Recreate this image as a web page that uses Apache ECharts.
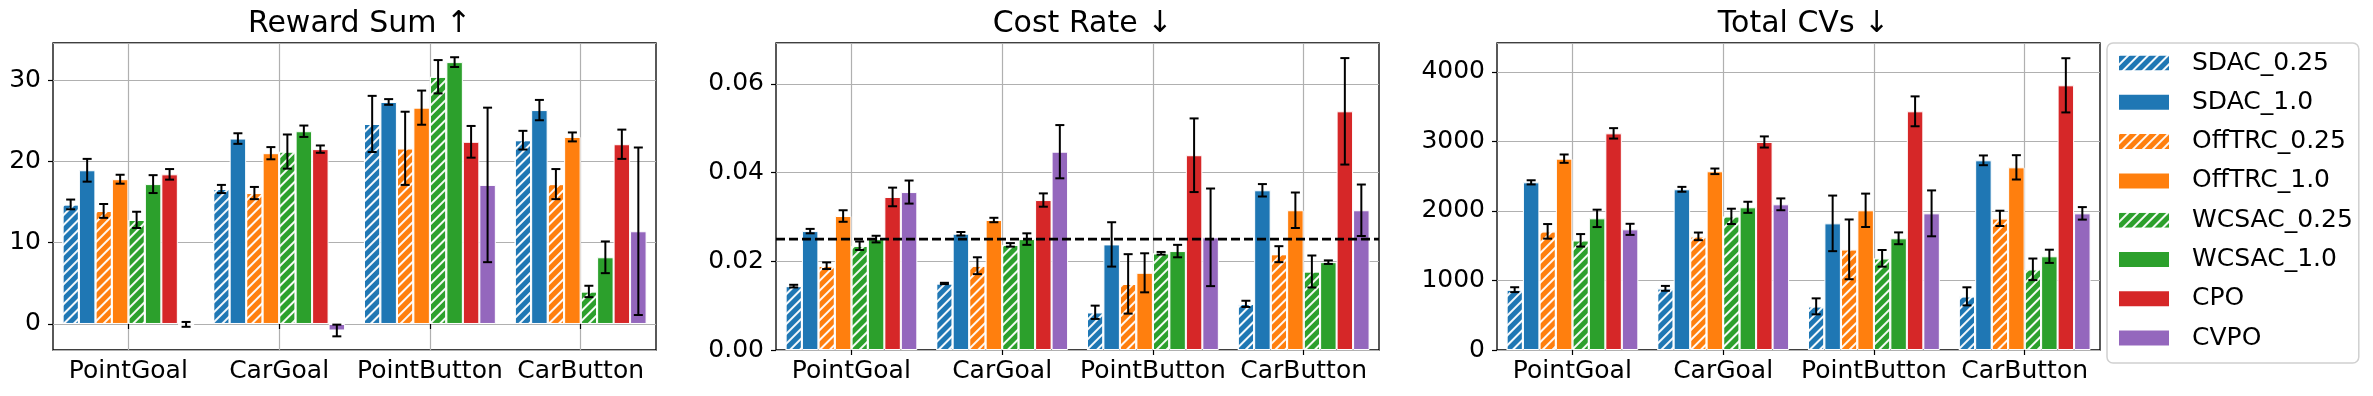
<!DOCTYPE html>
<html>
<head>
<meta charset="utf-8">
<script src="https://cdn.jsdelivr.net/npm/echarts@6/dist/echarts.min.js"></script>
<style>
  html, body { margin: 0; padding: 0; background: #fff; }
  #chart { width: 2373px; height: 396px; }
</style>
</head>
<body>
<div id="chart"></div>
<script>
// categories and methods
const envs = ['PointGoal', 'CarGoal', 'PointButton', 'CarButton'];
const methods = ['SDAC_0.25', 'SDAC_1.0', 'OffTRC_0.25', 'OffTRC_1.0', 'WCSAC_0.25', 'WCSAC_1.0', 'CPO', 'CVPO'];

// rows = methods, columns = envs
const rewardMean = [
  [14.7, 16.6, 24.6, 22.6],
  [18.9, 22.8, 27.3, 26.3],
  [13.9, 16.1, 21.6, 17.2],
  [17.8, 21.0, 26.6, 23.0],
  [12.8, 21.2, 30.4, 4.0],
  [17.2, 23.7, 32.2, 8.2],
  [18.4, 21.5, 22.4, 22.1],
  [-0.05, -0.8, 17.1, 11.4]
];
const rewardErr = [
  [0.6, 0.5, 3.45, 1.15],
  [1.4, 0.65, 0.35, 1.25],
  [0.85, 0.75, 4.5, 1.85],
  [0.55, 0.75, 2.1, 0.55],
  [1.0, 2.1, 2.05, 0.7],
  [1.1, 0.7, 0.6, 1.95],
  [0.65, 0.45, 1.95, 1.8],
  [0.3, 0.72, 9.5, 10.3]
];

const costMean = [
  [0.0144, 0.0150, 0.0085, 0.0104],
  [0.0268, 0.0262, 0.0238, 0.0360],
  [0.0190, 0.0190, 0.0149, 0.0216],
  [0.0302, 0.0293, 0.0174, 0.0315],
  [0.0235, 0.0237, 0.0218, 0.0177],
  [0.0250, 0.0250, 0.0223, 0.0198],
  [0.0345, 0.0338, 0.0439, 0.0538],
  [0.0356, 0.0447, 0.0254, 0.0315]
];
const costErr = [
  [0.0003, 0.00015, 0.0015, 0.0007],
  [0.0005, 0.0004, 0.005, 0.0014],
  [0.00075, 0.0019, 0.0067, 0.0018],
  [0.0013, 0.0005, 0.0044, 0.004],
  [0.00095, 0.0004, 0.0003, 0.0036],
  [0.00075, 0.0013, 0.0014, 0.0004],
  [0.0021, 0.0015, 0.0083, 0.012],
  [0.0026, 0.006, 0.011, 0.0058]
];
const costLimit = 0.025;

const cvMean = [
  [868, 887, 628, 772],
  [2412, 2312, 1822, 2729],
  [1707, 1635, 1448, 1894],
  [2753, 2571, 2010, 2628],
  [1578, 1923, 1319, 1161],
  [1894, 2053, 1607, 1348],
  [3117, 2993, 3434, 3808],
  [1736, 2096, 1966, 1966]
];
const cvErr = [
  [35, 35, 115, 130],
  [30, 35, 400, 70],
  [105, 55, 430, 110],
  [60, 40, 240, 175],
  [90, 110, 120, 155],
  [125, 80, 85, 95],
  [75, 80, 215, 390],
  [80, 85, 330, 90]
];

const colors = ['#1f77b4', '#1f77b4', '#ff7f0e', '#ff7f0e', '#2ca02c', '#2ca02c', '#d62728', '#9467bd'];
const hatched = [true, false, true, false, true, false, false, false];

const FONT = 'DejaVu Sans';
const GROUP = 0.875; // share of a category taken by the bar group

const panels = [
  { title: 'Reward Sum ↑', mean: rewardMean, err: rewardErr, left: 53, min: -3.2, max: 34.55, split: 4, fmt: v => String(v) },
  { title: 'Cost Rate ↓', mean: costMean, err: costErr, left: 776, min: 0, max: 0.0692, interval: 0.02, fmt: v => v.toFixed(2) },
  { title: 'Total CVs ↓', mean: cvMean, err: cvErr, left: 1497, min: 0, max: 4417, interval: 1000, fmt: v => String(v) }
];
const gridW = 603, gridTop = 43, gridH = 307;
const helperCats = ['a', 'b', 'c', 'd', 'e', 'f', 'g', 'h', 'i'];

const hatch = {
  symbol: 'rect',
  symbolSize: 1,
  color: 'rgba(255,255,255,0.95)',
  dashArrayX: [1, 0],
  dashArrayY: [1.3, 5],
  rotation: -Math.PI / 4
};

function renderErr(params, api) {
  const c = api.value(0), k = api.value(1);
  const lo = api.value(2), hi = api.value(3);
  const band = api.size([1, 0])[0];
  const w = band * GROUP / methods.length;
  const x = api.coord([c, 0])[0] - band * GROUP / 2 + (k + 0.5) * w;
  const y1 = api.coord([c, hi])[1];
  const y2 = api.coord([c, lo])[1];
  const cap = 4.5;
  const style = { stroke: '#000', lineWidth: 2 };
  return {
    type: 'group',
    children: [
      { type: 'line', shape: { x1: x, y1: y1, x2: x, y2: y2 }, style },
      { type: 'line', shape: { x1: x - cap, y1: y1, x2: x + cap, y2: y1 }, style },
      { type: 'line', shape: { x1: x - cap, y1: y2, x2: x + cap, y2: y2 }, style }
    ]
  };
}

const grid = [], xAxis = [], yAxis = [], title = [], series = [];

panels.forEach((p, gi) => {
  grid.push({
    left: p.left, top: gridTop, width: gridW, height: gridH,
    show: true, borderColor: '#000', borderWidth: 1.3, backgroundColor: 'transparent'
  });
  title.push({
    text: p.title,
    left: p.left + gridW / 2,
    textAlign: 'center',
    top: 4,
    textStyle: { fontFamily: FONT, fontSize: 30, fontWeight: 'normal', color: '#000' }
  });
  // main category axis
  xAxis.push({
    type: 'category', gridIndex: gi, data: envs,
    axisLine: { show: false },
    axisTick: { show: true, alignWithLabel: true, length: 5, lineStyle: { color: '#000', width: 1.2 } },
    axisLabel: { fontFamily: FONT, fontSize: 25, color: '#000', margin: 9, interval: 0, hideOverlap: false },
    splitLine: { show: false }
  });
  yAxis.push({
    type: 'value', gridIndex: gi, min: p.min, max: p.max,
    interval: p.interval, splitNumber: p.split,
    axisLine: { show: false },
    axisTick: { show: true, length: 5, lineStyle: { color: '#000', width: 1.2 } },
    axisLabel: {
      fontFamily: FONT, fontSize: 25, color: '#000', margin: 12,
      showMinLabel: p.min === 0, showMaxLabel: false, formatter: p.fmt
    },
    splitLine: { show: true, lineStyle: { color: '#b0b0b0', width: 1.2 } }
  });
});

// helper axes: vertical gridlines through category centres
panels.forEach((p, gi) => {
  xAxis.push({
    type: 'category', gridIndex: gi, boundaryGap: false,
    data: helperCats,
    axisLine: { show: false }, axisTick: { show: false }, axisLabel: { show: false },
    splitLine: { show: true, interval: i => i % 2 === 1, lineStyle: { color: '#b0b0b0', width: 1.2 } }
  });
});

panels.forEach((p, gi) => {
  methods.forEach((m, k) => {
    const itemStyle = { color: colors[k], borderColor: '#fff', borderWidth: 1 };
    if (hatched[k]) itemStyle.decal = hatch;
    series.push({
      name: m, type: 'bar', xAxisIndex: gi, yAxisIndex: gi,
      barGap: '0%', barCategoryGap: ((1 - GROUP) * 100) + '%',
      itemStyle, data: p.mean[k], silent: true, animation: false
    });
  });
  const errData = [];
  methods.forEach((m, k) => {
    envs.forEach((e, c) => {
      const v = p.mean[k][c], d = p.err[k][c];
      errData.push([c, k, v - d, v + d]);
    });
  });
  series.push({
    name: 'err' + gi, type: 'custom', xAxisIndex: gi, yAxisIndex: gi,
    renderItem: renderErr, data: errData, z: 3, silent: true, animation: false,
    encode: { x: 0, y: [2, 3] }
  });
});

// cost threshold, across the whole cost panel
series.push({
  name: 'limit', type: 'line', xAxisIndex: 4, yAxisIndex: 1,
  data: helperCats.map(() => costLimit),
  showSymbol: false, symbol: 'none', silent: true, animation: false, z: 4,
  lineStyle: { color: '#000', type: [9, 4], width: 2.8 }
});

const chart = echarts.init(document.getElementById('chart'), null, { renderer: 'canvas' });
chart.setOption({
  backgroundColor: '#fff',
  animation: false,
  textStyle: { fontFamily: FONT },
  title,
  grid, xAxis, yAxis, series,
  legend: {
    data: methods,
    orient: 'vertical',
    left: 2107, top: 43,
    icon: 'rect',
    itemWidth: 52, itemHeight: 17, itemGap: 11.3,
    padding: [6, 6, 11, 10],
    borderColor: '#d0d0d0', borderWidth: 1.5, borderRadius: 6,
    backgroundColor: '#fff',
    textStyle: { fontFamily: FONT, fontSize: 25, color: '#000', lineHeight: 28, padding: [0, 0, 0, 17] }
  }
});
</script>
</body>
</html>
